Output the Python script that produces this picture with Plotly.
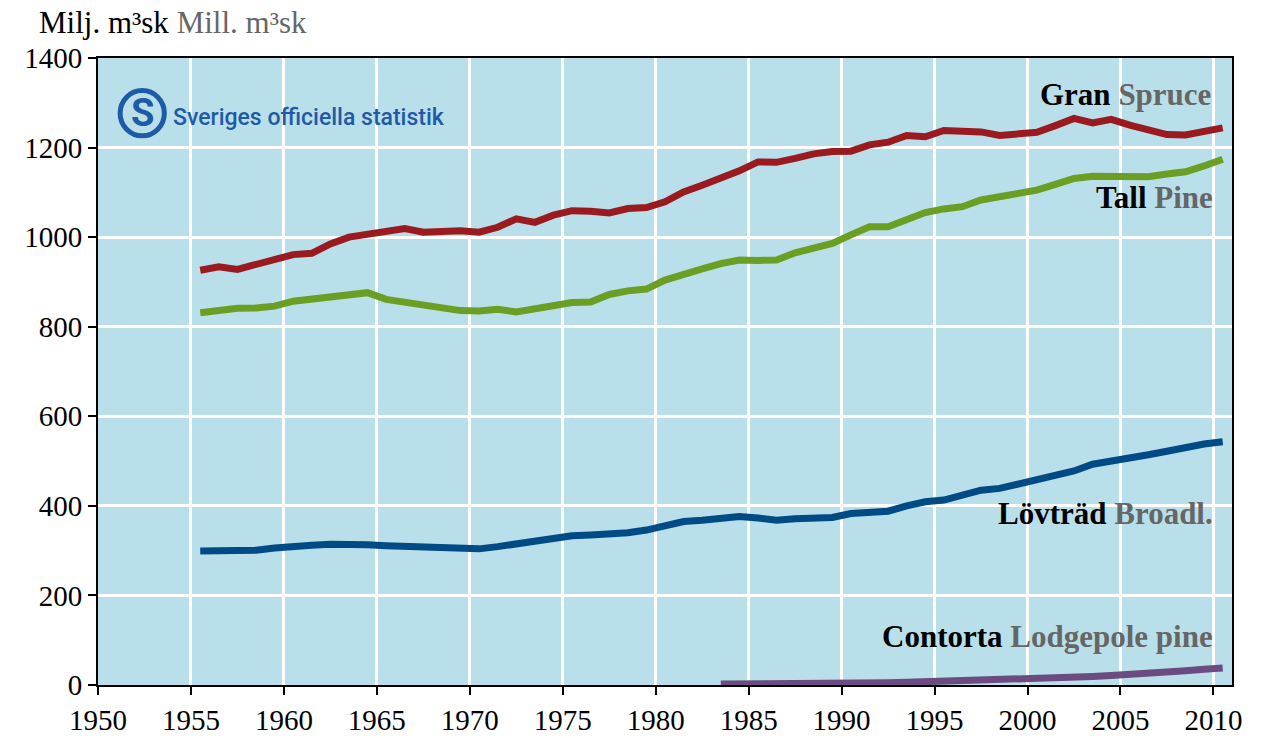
import plotly.graph_objects as go

years = list(range(1955, 2011))

gran = [926, 934, 928, 939, 952, 961, 964, 985, 1000, 1006,
        1011, 1019, 1011, 1014, 1014, 1011, 1022, 1041, 1033, 1049,
        1059, 1058, 1054, 1064, 1066, 1079, 1101, 1116, 1131, 1148,
        1168, 1167, 1176, 1186, 1191, 1192, 1206, 1212, 1227, 1224,
        1238, 1235, 1235, 1227, 1232, 1234, 1249, 1265, 1255, 1263,
        1250, 1239, 1229, 1228, 1235, 1244]

tall = [831, 836, 841, 842, 846, 857, 862, 868, 871, 876,
        861, 854, 849, 843, 836, 835, 839, 833, 841, 848,
        854, 855, 872, 880, 884, 904, 918, 929, 941, 949,
        948, 949, 965, 975, 986, 1005, 1023, 1023, 1040, 1055,
        1063, 1068, 1083, 1090, 1096, 1105, 1118, 1131, 1136, 1136,
        1135, 1135, 1141, 1146, 1159, 1174]

lovtrad = [299, 300, 301, 301, 306, 310, 312, 314, 315, 313,
           311, 310, 307, 305, 304, 304, 309, 316, 322, 329,
           333, 335, 336, 340, 346, 357, 365, 368, 372, 376,
           373, 368, 371, 373, 374, 383, 386, 388, 400, 409,
           413, 424, 435, 439, 448, 460, 469, 478, 493, 500,
           504, 514, 522, 531, 538, 543]

contorta_years = list(range(1983, 2011))
contorta = [2, 2, 2, 2, 3, 3, 3, 4, 4, 5,
            6, 7, 8, 9, 10, 11, 12, 14, 15, 17,
            19, 21, 23, 26, 29, 32, 35, 38]

series = [
    ("Gran", gran, years, "#9A1A1F"),
    ("Tall", tall, years, "#6A9F24"),
    ("Lövträd", lovtrad, years, "#004A85"),
    ("Contorta", contorta, contorta_years, "#6B4B80"),
]

labels = [
    ("Gran", "Spruce", 0.983, 0.942),
    ("Tall", "Pine", 0.985, 0.777),
    ("Lövträd", "Broadl.", 0.985, 0.273),
    ("Contorta", "Lodgepole pine", 0.985, 0.078),
]

BG = "#B9E0EA"
GREY = "#666666"
LOGO = "#1F5AA6"
SERIF = "Liberation Serif"

fig = go.Figure()

for name, vals, xs, color in series:
    # values are annual, drawn at mid-year
    fig.add_trace(
        go.Scatter(
            x=[x + 0.5 for x in xs],
            y=vals,
            name=name,
            mode='lines',
            line=dict(color=color, width=7),
        )
    )

fig.update_layout(
    width=1268,
    height=738,
    margin={"l": 98, "r": 36, "t": 58, "b": 53},
    paper_bgcolor="white",
    plot_bgcolor=BG,
    showlegend=False,
    font=dict(family=SERIF, size=29, color="black"),
)

axis_style = dict(
    showgrid=True,
    gridcolor="white",
    gridwidth=3,
    showline=True,
    linecolor="black",
    linewidth=2,
    mirror=True,
    ticks="outside",
    ticklen=8,
    tickwidth=2,
    tickcolor="black",
    zeroline=False,
    automargin=False,
    tickfont=dict(family=SERIF, size=29, color="black"),
)

fig.update_xaxes(range=[1950, 2011], tick0=1950, dtick=5, **axis_style)
fig.update_yaxes(range=[0, 1400], tick0=0, dtick=200, **axis_style)

annotations = [
    dict(
        text="Milj. m³sk <span style='color:%s'>Mill. m³sk</span>" % GREY,
        xref="paper", yref="paper", x=-0.054, y=1.057,
        xanchor="left", yanchor="middle", showarrow=False,
        font=dict(family=SERIF, size=31),
    ),
    dict(
        text="Sveriges officiella statistik",
        xref="paper", yref="paper", x=0.064, y=0.905,
        xanchor="left", yanchor="middle", showarrow=False,
        font=dict(family="Roboto, sans-serif", size=23, color=LOGO, weight=500),
    ),
    dict(
        text="S",
        xref="paper", yref="paper", x=0.0392, y=0.912,
        xanchor="center", yanchor="middle", showarrow=False,
        font=dict(family="Roboto, sans-serif", size=38, color=LOGO, weight=700),
    ),
]

for sv, en, x, y in labels:
    annotations.append(
        dict(
            text="<b>%s</b> <b><span style='color:%s'>%s</span></b>" % (sv, GREY, en),
            xref="paper", yref="paper", x=x, y=y,
            xanchor="right", yanchor="middle", showarrow=False,
            font=dict(family=SERIF, size=31),
        )
    )

fig.update_layout(
    annotations=annotations,
    shapes=[
        dict(
            type="circle", xref="paper", yref="paper",
            x0=0.0195, x1=0.0585, y0=0.876, y1=0.948,
            line=dict(color=LOGO, width=5),
        )
    ],
)

# drop the default body margin so the figure fills the window
fig.write_html(
    "out.html",
    config={"displayModeBar": False},
    post_script="document.body.style.margin='0';",
)
